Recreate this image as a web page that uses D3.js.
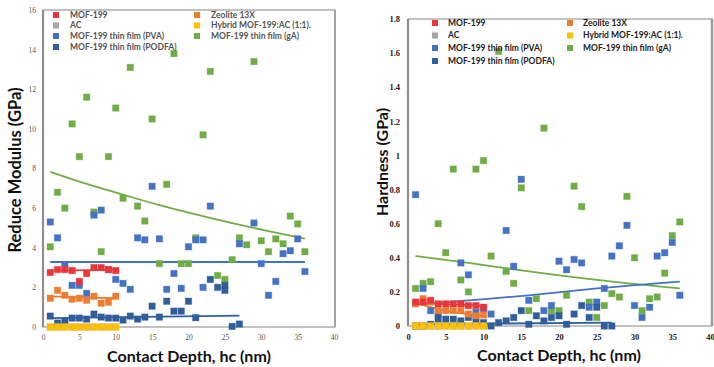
<!DOCTYPE html>
<html>
<head>
<meta charset="utf-8">
<script src="https://cdn.jsdelivr.net/npm/d3@7/dist/d3.min.js"></script>
<style>
  body { margin: 0; background: #fff; }
  svg { display: block; }
</style>
</head>
<body>
<div id="chart"></div>
<script>
// ---- data ----
const depthTicks = [0, 5, 10, 15, 20, 25, 30, 35, 40];
const modulusTicks = [0, 2, 4, 6, 8, 10, 12, 14, 16];
const hardnessTicks = [0, 0.2, 0.4, 0.6, 0.8, 1, 1.2, 1.4, 1.6, 1.8];

const seriesNames = ["MOF-199", "AC", "MOF-199 thin film (PVA)", "MOF-199 thin film (PODFA)",
  "Zeolite 13X", "Hybrid MOF-199:AC (1:1).", "MOF-199 thin film (gA)"];

// reduce modulus (GPa) vs contact depth (nm)
const modulusMOF = [[1,2.75],[2,2.9],[3,2.9],[4,2.85],[5,2.3],[6,2.7],[7,3.0],[8,3.0],[9,2.9],[10,2.85]];
const modulusAC = [[1,0],[2,0],[3,0],[4,0],[5,0],[6,0],[7,0],[8,0],[9,0],[10,0]];
const modulusZeolite = [[1,1.45],[2,1.85],[3,1.6],[4,1.4],[5,1.45],[6,1.35],[7,1.55],[8,1.2],[9,1.25],[10,1.55]];
const modulusHybrid = [[1,0],[2,0],[3,0],[4,0],[5,0],[6,0],[7,0],[8,0],[9,0],[10,0]];
const modulusPVA = [[1,5.3],[2,4.5],[3,3.1],[4,2.1],[5,2.1],[6,1.7],[7,5.65],[8,5.9],[9,2.9],[10,2.4],
  [11,2.2],[12,1.9],[13,4.5],[14,4.4],[15,7.1],[16,4.45],[17,1.9],[18,2.7],[19,1.95],[20,4.05],
  [21,4.4],[22,4.4],[22,2.0],[23,6.1],[27,4.2],[29,5.25],[30,3.2],[31,1.6],[32,2.3],[33,3.7],
  [34,3.85],[35,4.45],[36,2.8]];
const modulusPODFA = [[1,0.55],[2,0.2],[3,0.3],[4,0.45],[5,0.45],[6,0.4],[7,0.65],[8,0.5],[9,0.45],
  [10,0.45],[11,0.35],[12,0.55],[13,0.4],[14,0.5],[15,1.05],[16,0.5],[17,1.3],[18,0.8],[19,0.8],
  [20,1.3],[21,0.47],[23,2.4],[24,2.0],[25,2.1],[25,1.85],[26,0.03],[27,0.15]];
const modulusGA = [[1,4.05],[2,6.8],[3,6.0],[4,10.25],[5,8.6],[6,11.6],[7,5.8],[8,3.8],[9,8.6],
  [10,11.05],[11,6.5],[12,13.1],[13,6.1],[14,5.35],[15,10.5],[16,3.2],[17,7.2],[18,13.8],[19,3.2],
  [20,3.2],[21,4.5],[22,9.7],[23,12.9],[24,2.6],[25,2.4],[26,3.4],[27,4.5],[28,4.15],[29,13.4],
  [30,4.35],[31,3.8],[32,4.45],[33,4.2],[34,5.6],[35,5.2],[36,3.8]];

// trend lines, modulus
const modulusTrendMOF = [[1,2.85],[10,2.88]];
const modulusTrendZeolite = [[1,1.55],[10,1.45]];
const modulusTrendPVA = [[1,3.28],[36,3.28]];
const modulusTrendPODFA = [[1,0.45],[27,0.57]];
const modulusTrendGA = [[1,7.83],[6,7.22],[11,6.68],[16,6.15],[21,5.68],[26,5.24],[31,4.84],[36,4.46]];

// hardness (GPa) vs contact depth (nm)
const hardMOF = [[1,0.14],[2,0.14],[3,0.15],[4,0.13],[5,0.13],[6,0.13],[7,0.13],[8,0.12],[9,0.12],[10,0.11]];
const hardAC = [[1,0],[2,0],[3,0],[4,0],[5,0],[6,0],[7,0],[8,0],[9,0],[10,0]];
const hardZeolite = [[1,0.13],[2,0.16],[3,0.14],[4,0.09],[5,0.09],[6,0.09],[7,0.09],[8,0.07],[9,0.06],[10,0.065]];
const hardHybrid = [[1,0],[2,0],[3,0],[4,0],[5,0],[6,0],[7,0],[8,0],[9,0],[10,0]];
const hardPVA = [[1,0.77],[2,0.22],[3,0.09],[7,0.37],[8,0.3],[9,0.08],[10,0.1],[11,0.07],[13,0.56],
  [14,0.35],[15,0.86],[16,0.15],[18,0.09],[19,0.12],[20,0.38],[21,0.33],[22,0.39],[23,0.37],
  [24,0.11],[25,0.14],[26,0.22],[27,0.41],[28,0.47],[29,0.59],[30,0.12],[31,0.05],[32,0.11],
  [33,0.41],[34,0.43],[35,0.49],[36,0.18]];
const hardPODFA = [[1,0],[2,0],[3,0.01],[4,0.04],[4,0.07],[5,0.04],[6,0.04],[7,0.03],[8,0.05],
  [9,0.04],[10,0.02],[11,0],[12,0.02],[13,0.03],[14,0.05],[15,0.09],[16,0.01],[17,0.06],[18,0.03],
  [19,0.05],[20,0.06],[21,0.01],[22,0.07],[23,0.12],[24,0.05],[25,0.11],[26,0],[27,0]];
const hardGA = [[1,0.22],[2,0.25],[3,0.26],[4,0.6],[5,0.43],[6,0.92],[7,0.27],[8,0.2],[9,0.92],
  [10,0.97],[11,0.41],[12,1.61],[13,0.32],[14,0.25],[15,0.81],[16,0.09],[17,0.16],[18,1.16],
  [19,0.09],[20,0.09],[21,0.18],[22,0.82],[23,0.7],[24,0.14],[25,0.05],[26,0.12],[27,0.19],
  [28,0.17],[29,0.76],[30,0.4],[31,0.09],[32,0.16],[33,0.17],[34,0.31],[35,0.53],[36,0.61]];

// trend lines, hardness
const hardTrendMOF = [[1,0.135],[10,0.12]];
const hardTrendZeolite = [[1,0.14],[3,0.11],[5,0.09],[7,0.075],[10,0.06]];
const hardTrendPVA = [[1,0.125],[8,0.15],[16,0.18],[25,0.22],[36,0.26]];
const hardTrendPODFA = [[1,0.01],[27,0.02]];
const hardTrendGA = [[1,0.41],[8,0.37],[16,0.32],[25,0.27],[36,0.22]];

// ---- styles ----
const colors = {
  "MOF-199": "#e8373a",
  "AC": "#a6a6a6",
  "MOF-199 thin film (PVA)": "#4472c4",
  "MOF-199 thin film (PODFA)": "#2f5e9a",
  "Zeolite 13X": "#ed7d31",
  "Hybrid MOF-199:AC (1:1).": "#ffc000",
  "MOF-199 thin film (gA)": "#70ad47"
};

const W = 714, H = 367;
const svg = d3.select("#chart").append("svg")
  .attr("width", W).attr("height", H)
  .style("font-family", "Lato, 'Open Sans', sans-serif");

function drawPanel(cfg) {
  const x = d3.scaleLinear().domain([0, 40]).range([cfg.left, cfg.xEnd]);
  const y = d3.scaleLinear().domain([0, cfg.yMax]).range([cfg.bottom, cfg.top]);
  const g = svg.append("g");

  // frame
  g.append("rect")
    .attr("x", cfg.left).attr("y", cfg.top)
    .attr("width", cfg.right - cfg.left).attr("height", cfg.bottom - cfg.top)
    .attr("fill", "none").attr("stroke", "#9a9a9a").attr("stroke-width", 1.2);
  g.append("line")
    .attr("x1", cfg.left).attr("x2", cfg.left)
    .attr("y1", cfg.top).attr("y2", cfg.bottom)
    .attr("stroke", "#8f8f8f").attr("stroke-width", 2.2);
  g.append("line")
    .attr("x1", cfg.right).attr("x2", cfg.right)
    .attr("y1", cfg.top).attr("y2", cfg.bottom)
    .attr("stroke", "#9a9a9a").attr("stroke-width", cfg.rightStroke);

  // axes
  const xAxis = d3.axisBottom(x).tickValues(depthTicks).tickSize(0).tickPadding(8);
  const xAxisG = g.append("g")
    .attr("transform", "translate(0," + cfg.bottom + ")")
    .call(xAxis);
  const yAxis = d3.axisLeft(y).tickValues(cfg.yTicks).tickSize(0).tickPadding(cfg.yPad)
    .tickFormat(d => d3.format("~g")(d));
  const yAxisG = g.append("g")
    .attr("transform", "translate(" + cfg.left + ",0)")
    .call(yAxis);
  [xAxisG, yAxisG].forEach(a => {
    a.select(".domain").remove();
    a.selectAll("text")
      .attr("font-family", "'Liberation Serif', 'DejaVu Serif', serif")
      .attr("font-size", cfg.tickSize)
      .attr("font-weight", cfg.tickWeight)
      .attr("fill", cfg.tickColor);
  });

  // trend lines
  const line = d3.line().x(d => x(d[0])).y(d => y(d[1])).curve(d3.curveMonotoneX);
  cfg.trends.forEach(t => {
    g.append("path")
      .datum(t.data)
      .attr("fill", "none")
      .attr("stroke", colors[t.name])
      .attr("stroke-width", 1.8)
      .attr("d", line);
  });

  // points
  const s = 6.5;
  cfg.series.forEach(sr => {
    g.append("g").selectAll("rect")
      .data(sr.data)
      .enter()
      .append("rect")
      .attr("x", d => x(d[0]) - s / 2)
      .attr("y", d => y(d[1]) - s / 2)
      .attr("width", s).attr("height", s)
      .attr("fill", colors[sr.name])
      .attr("stroke", colors[sr.name]).attr("stroke-opacity", 0.3).attr("stroke-width", 1);
  });

  // legend
  const leg = g.append("g");
  cfg.legend.forEach(item => {
    const [name, lx, ly] = item;
    leg.append("rect")
      .attr("x", lx - 3).attr("y", ly - 3)
      .attr("width", 6).attr("height", 6)
      .attr("fill", colors[name]);
    leg.append("text")
      .attr("x", lx + cfg.legendGap).attr("y", ly)
      .attr("dy", "0.35em")
      .attr("font-size", cfg.legendSize)
      .attr("font-weight", "bold")
      .attr("fill", cfg.legendColor)
      .text(name);
  });

  // axis titles
  g.append("text")
    .attr("x", cfg.xTitleX).attr("y", cfg.xTitleY)
    .attr("text-anchor", "middle")
    .attr("font-size", cfg.titleSize).attr("font-weight", "bold")
    .attr("fill", "#111")
    .text("Contact Depth, hc (nm)");
  g.append("text")
    .attr("transform", "translate(" + cfg.yTitleX + "," + cfg.yTitleY + ") rotate(-90)")
    .attr("text-anchor", "middle")
    .attr("font-size", cfg.yTitleSize).attr("font-weight", "bold")
    .attr("fill", "#111")
    .text(cfg.yTitle);
}

drawPanel({
  left: 43, right: 335, xEnd: 334, top: 10, bottom: 327, yMax: 16,
  yTicks: modulusTicks, yPad: 7, tickSize: 7.5, tickWeight: "normal", tickColor: "#555",
  rightStroke: 1.5,
  yTitle: "Reduce Modulus (GPa)", yTitleX: 21, yTitleY: 170, yTitleSize: 16.5,
  xTitleX: 189, xTitleY: 362, titleSize: 16,
  legendSize: 8.5, legendColor: "#555", legendGap: 14,
  legend: [
    [seriesNames[0], 56, 15], [seriesNames[1], 56, 25.5], [seriesNames[2], 56, 36], [seriesNames[3], 56, 47],
    [seriesNames[4], 197, 15], [seriesNames[5], 197, 25.5], [seriesNames[6], 197, 36]
  ],
  trends: [
    { name: seriesNames[6], data: modulusTrendGA },
    { name: seriesNames[2], data: modulusTrendPVA },
    { name: seriesNames[0], data: modulusTrendMOF },
    { name: seriesNames[4], data: modulusTrendZeolite },
    { name: seriesNames[3], data: modulusTrendPODFA }
  ],
  series: [
    { name: seriesNames[6], data: modulusGA },
    { name: seriesNames[2], data: modulusPVA },
    { name: seriesNames[3], data: modulusPODFA },
    { name: seriesNames[4], data: modulusZeolite },
    { name: seriesNames[0], data: modulusMOF },
    { name: seriesNames[1], data: modulusAC },
    { name: seriesNames[5], data: modulusHybrid }
  ]
});

drawPanel({
  left: 408, right: 712, xEnd: 710, top: 19, bottom: 326, yMax: 1.8,
  yTicks: hardnessTicks, yPad: 8, tickSize: 8.5, tickWeight: "bold", tickColor: "#222",
  rightStroke: 2.5,
  yTitle: "Hardness (GPa)", yTitleX: 388, yTitleY: 162, yTitleSize: 16,
  xTitleX: 559, xTitleY: 361, titleSize: 16,
  legendSize: 8.5, legendColor: "#222", legendGap: 13,
  legend: [
    [seriesNames[0], 435, 23], [seriesNames[1], 435, 35.5], [seriesNames[2], 435, 48], [seriesNames[3], 435, 61],
    [seriesNames[4], 570, 23], [seriesNames[5], 570, 35.5], [seriesNames[6], 570, 48]
  ],
  trends: [
    { name: seriesNames[6], data: hardTrendGA },
    { name: seriesNames[2], data: hardTrendPVA },
    { name: seriesNames[0], data: hardTrendMOF },
    { name: seriesNames[4], data: hardTrendZeolite },
    { name: seriesNames[3], data: hardTrendPODFA }
  ],
  series: [
    { name: seriesNames[6], data: hardGA },
    { name: seriesNames[2], data: hardPVA },
    { name: seriesNames[3], data: hardPODFA },
    { name: seriesNames[4], data: hardZeolite },
    { name: seriesNames[0], data: hardMOF },
    { name: seriesNames[1], data: hardAC },
    { name: seriesNames[5], data: hardHybrid }
  ]
});
</script>
</body>
</html>
